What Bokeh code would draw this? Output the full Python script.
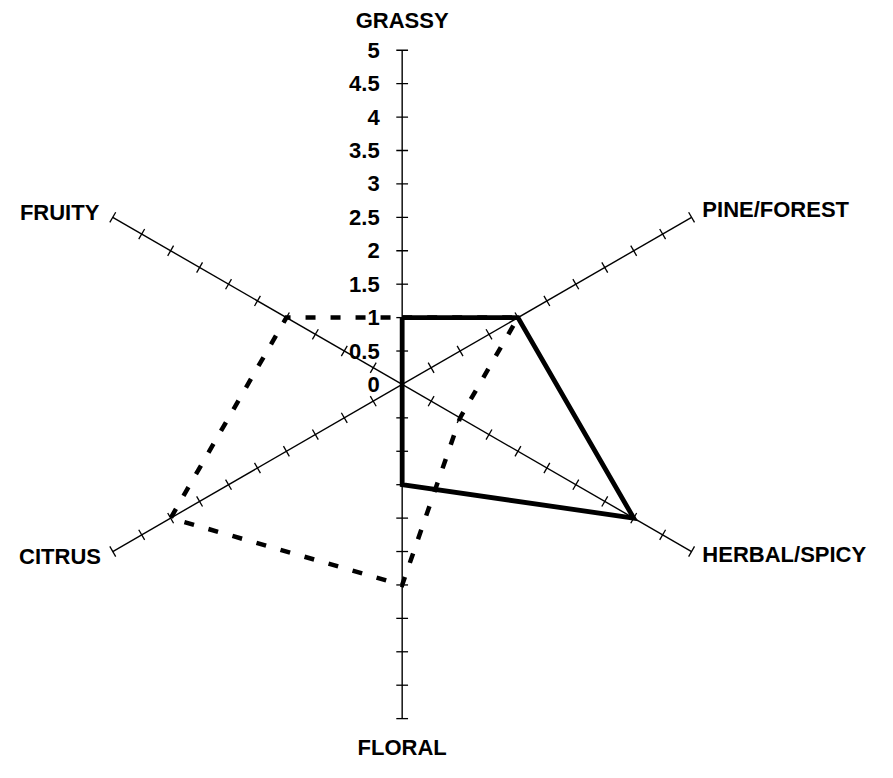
import math
from bokeh.plotting import figure
from bokeh.models import Range1d
from bokeh.core.properties import value
from bokeh.embed import file_html
from bokeh.resources import INLINE

# ---- data ----
categories = ["GRASSY", "PINE/FOREST", "HERBAL/SPICY", "FLORAL", "CITRUS", "FRUITY"]
solid_series = [1, 2, 4, 1.5, 0, 0]
dashed_series = [1, 2, 1, 3, 4, 2]
tick_values = [0, 0.5, 1, 1.5, 2, 2.5, 3, 3.5, 4, 4.5, 5]
tick_labels = ["0", "0.5", "1", "1.5", "2", "2.5", "3", "3.5", "4", "4.5", "5"]
r_max = 5

# ---- layout / style ----
W, H = 877, 762
k = 0.98                      # page-to-figure scale
S = 68.2 * k                  # pixels per unit
cx, cy = 409 * W / 893, 392 * H / 778   # centre in figure pixels
angles = [90, 30, -30, -90, -150, 150]
FONT = "Liberation Sans"
FSIZE = "22px"

p = figure(width=W, height=H, output_backend="svg", toolbar_location=None,
           x_range=Range1d(-cx / S, (W - cx) / S),
           y_range=Range1d(-(H - cy) / S, cy / S),
           min_border=0)
p.axis.visible = False
p.grid.visible = False
p.outline_line_color = None
p.background_fill_color = "white"
p.border_fill_color = "white"

def pt(a, r):
    t = math.radians(a)
    return r * math.cos(t), r * math.sin(t)

# axes
x0s, y0s, x1s, y1s = [], [], [], []
for a in angles:
    ex, ey = pt(a, r_max)
    x0s.append(0); y0s.append(0); x1s.append(ex); y1s.append(ey)
p.segment(x0s, y0s, x1s, y1s, line_color="black", line_width=1.4)

# tick marks (perpendicular, half-length in px)
half = 6 * k / S
tx0, ty0, tx1, ty1 = [], [], [], []
for a in angles:
    t = math.radians(a)
    nx, ny = -math.sin(t), math.cos(t)
    for v in tick_values[1:]:
        bx, by = pt(a, v)
        tx0.append(bx - nx * half); ty0.append(by - ny * half)
        tx1.append(bx + nx * half); ty1.append(by + ny * half)
p.segment(tx0, ty0, tx1, ty1, line_color="black", line_width=1.3)

# series polygons
def closed(vals):
    xs, ys = [], []
    for a, v in zip(angles, vals):
        x, y = pt(a, v)
        xs.append(x); ys.append(y)
    xs.append(xs[0]); ys.append(ys[0])
    return xs, ys

dx, dy = closed(dashed_series)
p.line(dx, dy, line_color="black", line_width=4.5, line_dash="10 15",
       line_join="miter")
sx, sy = closed(solid_series)
p.line(sx, sy, line_color="black", line_width=4.8, line_join="miter")

# radial tick labels along GRASSY axis
p.text(x=[-23 * k / S] * len(tick_values), y=tick_values, text=tick_labels,
       text_font=value(FONT), text_font_size=FSIZE, text_font_style="bold",
       text_color="black", text_align="right", text_baseline="middle")

# category labels (pixel offsets from axis ends)
label_off = [(0, -30), (11, -7.5), (11, 3.5), (0, 29), (-12, 5.5), (-13.7, -5)]
label_align = ["center", "left", "left", "center", "right", "right"]
for cat, a, (ox, oy), al in zip(categories, angles, label_off, label_align):
    ex, ey = pt(a, r_max)
    p.text(x=[ex + ox * k / S], y=[ey - oy * k / S], text=[cat],
           text_font=value(FONT), text_font_size=FSIZE, text_font_style="bold",
           text_color="black", text_align=al, text_baseline="middle")

open("out.html", "w").write(file_html(p, INLINE))
